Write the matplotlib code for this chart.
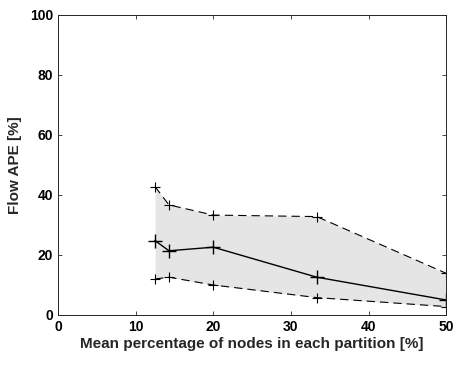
import numpy as np
import matplotlib
matplotlib.use("Agg")
import matplotlib.pyplot as plt

plt.rcParams['font.family'] = ['Liberation Sans', 'DejaVu Sans']
plt.rcParams['font.weight'] = 'bold'

# data
share = [12.5, 14.29, 20.0, 33.33, 50.0]
ape_mean = [24.8, 21.4, 22.6, 12.6, 5.0]
ape_upper = [42.8, 36.7, 33.3, 32.8, 13.9]
ape_lower = [12.0, 12.6, 10.0, 5.8, 2.8]

fig = plt.figure(figsize=(4.53, 3.65), dpi=100)
ax = fig.add_axes([0.128, 0.137, 0.857, 0.822])

dash = (0, (7.5, 4.5))
ax.fill_between(share, ape_lower, ape_upper, color='#e5e5e5', lw=0)
ax.plot(share, ape_upper, color='k', ls=dash, marker='+', lw=0.8, ms=7, mew=0.8)
ax.plot(share, ape_lower, color='k', ls=dash, marker='+', lw=0.8, ms=7, mew=0.8)
ax.plot(share, ape_mean, 'k-+', lw=1.0, ms=10, mew=1.0)

ax.set_xlim(0, 50)
ax.set_ylim(0, 100)
ax.set_xticks(range(0, 51, 10))
ax.set_yticks(range(0, 101, 20))
ax.tick_params(direction='in', top=True, right=True, labelsize=10,
               colors='#262626', length=3, width=0.6)
for lbl in ax.get_xticklabels() + ax.get_yticklabels():
    lbl.set_color('black')
for s in ax.spines.values():
    s.set_color('#262626')
    s.set_linewidth(0.7)

ax.set_xlabel('Mean percentage of nodes in each partition [%]', fontsize=11,
              fontweight='bold', color='#262626', labelpad=2)
ax.set_ylabel('Flow APE [%]', fontsize=11, fontweight='bold', color='#262626',
              labelpad=6)

fig.savefig('out.png', dpi=100)
